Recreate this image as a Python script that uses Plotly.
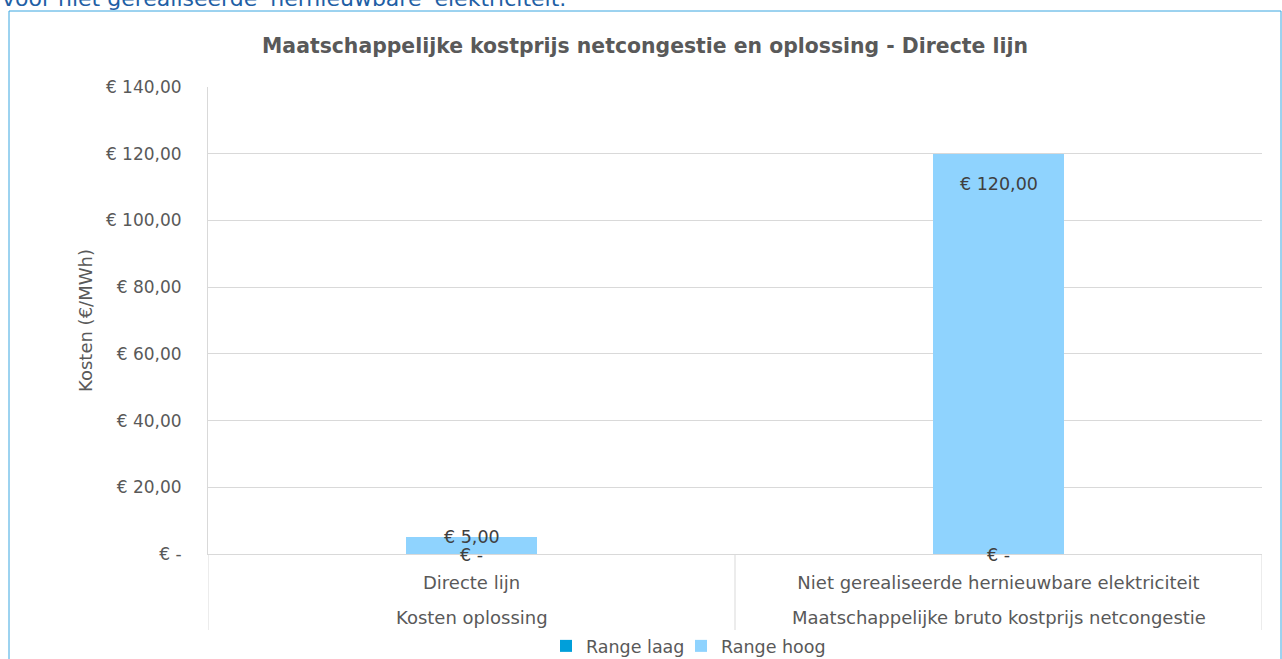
import plotly.graph_objects as go

# ---- data ----
groups = ["Kosten oplossing", "Maatschappelijke bruto kostprijs netcongestie"]
categories = ["Directe lijn", "Niet gerealiseerde hernieuwbare elektriciteit"]
range_laag = [0, 0]
range_hoog = [5, 120]
y_ticks = [0, 20, 40, 60, 80, 100, 120, 140]

FONT = "DejaVu Sans"
GREY = "#595959"
LINE = "#d9d9d9"
FS = 17.5

# plot-area geometry (pixels)
L, R, T, B = 208, 20, 87, 105
PW = 1282 - L - R
PH = 659 - T - B


def py(px):
    """pixel row -> paper y"""
    return (659 - B - px) / PH


def px_(x):
    """pixel column -> paper x"""
    return (x - L) / PW


def eur(v):
    if v == 0:
        return "€ -"
    return "€ " + f"{v:,.2f}".replace(",", "X").replace(".", ",").replace("X", ".")


fig = go.Figure()
fig.add_trace(go.Bar(
    x=categories, y=range_laag, name="Range laag", legend="legend", showlegend=True,
    marker=dict(color="#009fda", line=dict(width=0)), width=0.25,
))
fig.add_trace(go.Bar(
    x=categories, y=range_hoog, name="Range hoog", legend="legend2", showlegend=True,
    marker=dict(color="#8fd3fe", line=dict(width=0)), width=0.25,
))

# data labels
for i, v in enumerate(range_laag):
    fig.add_annotation(x=i, y=v, text=eur(v), showarrow=False, xref="x", yref="y",
                       yanchor="middle", yshift=-1,
                       font=dict(family=FONT, size=FS, color="#404040"))
for i, v in enumerate(range_hoog):
    big = v > 20
    fig.add_annotation(x=i, y=v, text=eur(v), showarrow=False, xref="x", yref="y",
                       yanchor="middle", yshift=-30 if big else 0,
                       font=dict(family=FONT, size=FS, color="#404040"))

# outer category level (groups)
for i, g in enumerate(groups):
    fig.add_annotation(x=i, y=py(617), text=g, showarrow=False, xref="x", yref="paper",
                       yanchor="middle", font=dict(family=FONT, size=18, color=GREY))

# category dividers
n = len(categories)
for k in range(n + 1):
    fig.add_shape(type="line", xref="x", yref="paper", x0=k - 0.5, x1=k - 0.5,
                  y0=0, y1=py(630), line=dict(color=LINE, width=1))

# text cut off at the top (from surrounding document)
fig.add_annotation(text="voor niet gerealiseerde 'hernieuwbare' elektriciteit.",
                   xref="paper", yref="paper", x=px_(0), y=py(-1),
                   xanchor="left", yanchor="middle", showarrow=False,
                   font=dict(family=FONT, size=22, color="#1f5fa5"))

# chart frame
fig.add_shape(type="rect", xref="paper", yref="paper",
              x0=px_(9), x1=px_(1281), y0=py(670), y1=py(11),
              line=dict(color="#3aa6e0", width=1), fillcolor="rgba(0,0,0,0)", layer="below")

legend_style = dict(orientation="h", xanchor="left", y=py(646), yanchor="middle",
                    font=dict(family=FONT, size=FS, color=GREY), itemwidth=30,
                    bgcolor="rgba(0,0,0,0)", visible=True)

fig.update_layout(
    width=1282, height=659,
    showlegend=True,
    margin=dict(l=L, r=R, t=T, b=B, autoexpand=False),
    paper_bgcolor="white", plot_bgcolor="white",
    barmode="stack",
    title=dict(text="<b>Maatschappelijke kostprijs netcongestie en oplossing - Directe lijn</b>",
               x=645 / 1282, xanchor="center", xref="container", y=1 - 46 / 659, yanchor="middle",
               font=dict(family=FONT, size=20.4, color=GREY)),
    font=dict(family=FONT, size=FS, color=GREY),
    legend=dict(x=px_(546), **legend_style),
    legend2=dict(x=px_(681), **legend_style),
    xaxis=dict(type="category", showgrid=False, showline=True, linecolor=LINE, linewidth=1,
               range=[-0.5, n - 0.5], automargin=False,
               ticks="outside", ticklen=12, tickcolor="rgba(0,0,0,0)",
               tickfont=dict(family=FONT, size=18, color=GREY)),
    yaxis=dict(range=[0, 140], tickvals=y_ticks, ticktext=[eur(v) for v in y_ticks],
               showgrid=True, gridcolor=LINE, gridwidth=1, automargin=False,
               showline=True, linecolor=LINE, linewidth=1, zeroline=False,
               ticks="outside", ticklen=22, tickcolor="rgba(0,0,0,0)",
               tickfont=dict(family=FONT, size=17, color=GREY),
               title=dict(text="Kosten (€/MWh)", standoff=8,
                          font=dict(family=FONT, size=18, color=GREY))),
)

fig.write_html("out.html", config={"displayModeBar": False},
               post_script="document.body.style.margin='0px';document.body.style.overflow='hidden';")
